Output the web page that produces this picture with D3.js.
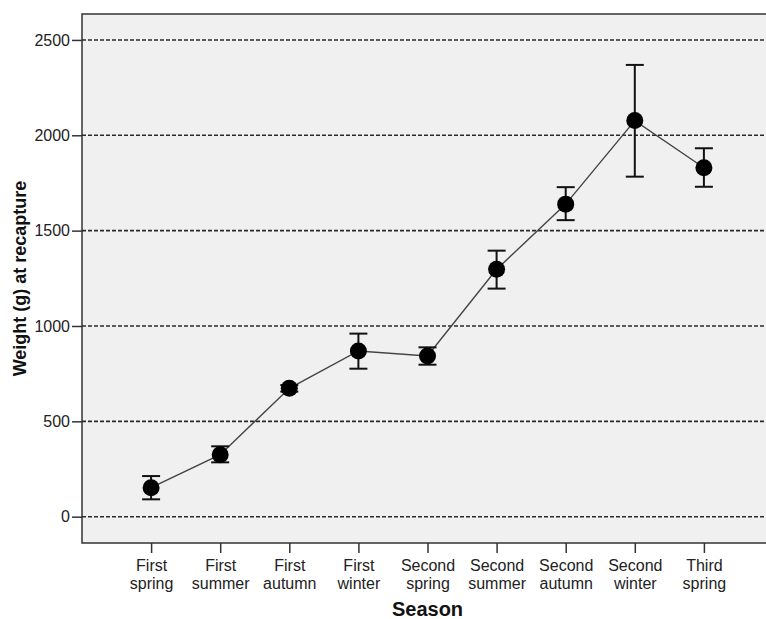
<!DOCTYPE html>
<html>
  <head>
    <meta charset="utf-8">
    <title>Weight at recapture</title>
    <script type="text/javascript" src="https://d3js.org/d3.v7.min.js"></script>
    <style>
      body { margin: 0; background: #fff; }
      text { font-family: "Liberation Sans", Arial, sans-serif; }
    </style>
  </head>
  <body>
    <svg width="766" height="619"></svg>
    <script>
      // data
      var seasons = [["First","spring"],["First","summer"],["First","autumn"],["First","winter"],
                     ["Second","spring"],["Second","summer"],["Second","autumn"],["Second","winter"],["Third","spring"]];
      var means = [152, 325, 673, 869, 843, 1297, 1639, 2077, 1830];
      var lower = [91, 285, 656, 776, 797, 1196, 1555, 1783, 1730];
      var upper = [213, 369, 690, 960, 888, 1395, 1728, 2369, 1932];
      var yTicks = [0, 500, 1000, 1500, 2000, 2500];

      var svg = d3.select("svg");
      var plot = {left: 82, top: 14, right: 773, bottom: 543};

      var x = d3.scalePoint()
        .domain(d3.range(seasons.length))
        .range([plot.left, plot.right])
        .padding(1);
      var y = d3.scaleLinear()
        .domain([-138, 2636])
        .range([plot.bottom, plot.top]);

      var g = svg.append("g");

      // background + frame
      g.append("rect")
        .attr("x", plot.left).attr("y", plot.top)
        .attr("width", plot.right - plot.left).attr("height", plot.bottom - plot.top)
        .attr("fill", "#f0f0f0")
        .attr("stroke", "#333").attr("stroke-width", 1.5);

      // grid lines
      g.append("g").selectAll("line")
        .data(yTicks).enter().append("line")
        .attr("x1", plot.left).attr("x2", plot.right)
        .attr("y1", function(d){ return y(d); })
        .attr("y2", function(d){ return y(d); })
        .attr("stroke", "#2a2a2a").attr("stroke-width", 1.6)
        .attr("stroke-dasharray", "4,2");

      // y axis
      var yAxis = g.append("g")
        .attr("transform", "translate(" + plot.left + ",0)")
        .call(d3.axisLeft(y).tickValues(yTicks).tickFormat(d3.format("d")).tickSize(10).tickPadding(2));
      yAxis.select(".domain").remove();
      yAxis.selectAll("line").attr("stroke", "#333").attr("stroke-width", 1.5);
      yAxis.selectAll("text").attr("font-size", 16).attr("fill", "#222")
        .style("font-family", "'Liberation Sans', Arial, sans-serif");

      // x axis
      var xAxis = g.append("g")
        .attr("transform", "translate(0," + plot.bottom + ")")
        .call(d3.axisBottom(x).tickSize(10).tickFormat(""));
      xAxis.select(".domain").remove();
      xAxis.selectAll("line").attr("stroke", "#333").attr("stroke-width", 1.5);
      xAxis.selectAll(".tick").append("text")
        .attr("fill", "#222").attr("font-size", 16).attr("text-anchor", "middle")
        .style("font-family", "'Liberation Sans', Arial, sans-serif")
        .each(function(d){
          var t = d3.select(this);
          t.append("tspan").attr("x", 0).attr("y", 28).text(seasons[d][0]);
          t.append("tspan").attr("x", 0).attr("y", 46).text(seasons[d][1]);
        });

      // axis titles
      g.append("text")
        .attr("x", (plot.left + plot.right) / 2).attr("y", 616)
        .attr("text-anchor", "middle").attr("font-size", 20).attr("font-weight", "bold")
        .attr("fill", "#111")
        .text("Season");
      g.append("text")
        .attr("transform", "translate(26," + (plot.top + plot.bottom) / 2 + ") rotate(-90)")
        .attr("text-anchor", "middle").attr("font-size", 18).attr("font-weight", "bold")
        .attr("fill", "#111")
        .text("Weight (g) at recapture");

      // connecting line
      var line = d3.line()
        .x(function(d, i){ return x(i); })
        .y(function(d){ return y(d); });
      g.append("path")
        .datum(means)
        .attr("d", line)
        .attr("fill", "none").attr("stroke", "#444").attr("stroke-width", 1.4);

      // error bars
      var eb = g.append("g").selectAll("g")
        .data(means).enter().append("g");
      eb.append("line")
        .attr("x1", function(d, i){ return x(i); })
        .attr("x2", function(d, i){ return x(i); })
        .attr("y1", function(d, i){ return y(lower[i]); })
        .attr("y2", function(d, i){ return y(upper[i]); })
        .attr("stroke", "#111").attr("stroke-width", 2);
      eb.append("line")
        .attr("x1", function(d, i){ return x(i) - 9; })
        .attr("x2", function(d, i){ return x(i) + 9; })
        .attr("y1", function(d, i){ return y(upper[i]); })
        .attr("y2", function(d, i){ return y(upper[i]); })
        .attr("stroke", "#111").attr("stroke-width", 2);
      eb.append("line")
        .attr("x1", function(d, i){ return x(i) - 9; })
        .attr("x2", function(d, i){ return x(i) + 9; })
        .attr("y1", function(d, i){ return y(lower[i]); })
        .attr("y2", function(d, i){ return y(lower[i]); })
        .attr("stroke", "#111").attr("stroke-width", 2);

      // markers
      g.append("g").selectAll("circle")
        .data(means).enter().append("circle")
        .attr("cx", function(d, i){ return x(i); })
        .attr("cy", function(d){ return y(d); })
        .attr("r", 8.5)
        .attr("fill", "#000");
    </script>
  </body>
</html>
